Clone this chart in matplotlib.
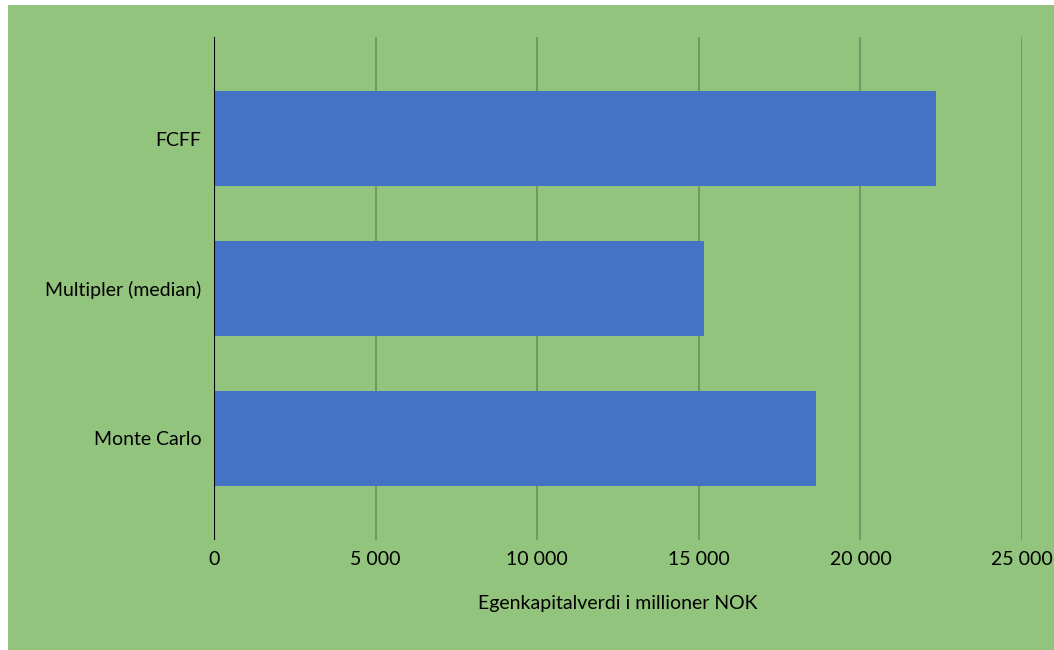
import matplotlib.pyplot as plt
from matplotlib.patches import Rectangle
from matplotlib.ticker import FuncFormatter

# Egenkapitalverdi per metode (millioner NOK)
metoder = ["FCFF", "Multipler (median)", "Monte Carlo"]
verdier = [22340, 15160, 18630]
x_ticks = [0, 5000, 10000, 15000, 20000, 25000]

bg = "#93C47D"
grid_col = "#6F8F5F"
bar_col = "#4472C4"

plt.rcParams["font.family"] = ["Lato", "DejaVu Sans"]

fig = plt.figure(figsize=(10.54, 6.5), dpi=100)
fig.patch.set_facecolor("white")
fig.patches.append(Rectangle((8/1054, 0), 1 - 8/1054, 1 - 5/650,
                             transform=fig.transFigure, facecolor=bg,
                             edgecolor="none", zorder=-10))

ax = fig.add_axes([214/1054, 1 - 540/650, 808/1054, 503/650])
ax.set_facecolor(bg)

pos = list(range(len(metoder)))
ax.barh(pos, verdier, height=0.633, color=bar_col, zorder=3)

ax.set_xlim(0, 25000)
ax.set_ylim(2.677, -0.677)
ax.set_yticks(pos)
ax.set_yticklabels(metoder)
ax.set_xticks(x_ticks)
ax.xaxis.set_major_formatter(FuncFormatter(lambda v, p: f"{int(v):,}".replace(",", " ")))

for s in ax.spines.values():
    s.set_visible(False)
ax.xaxis.grid(True, color=grid_col, linewidth=1.2, zorder=1)
ax.axvline(0, color="black", linewidth=1.5, zorder=4)
ax.tick_params(axis="both", length=0, labelsize=14, colors="black")
ax.tick_params(axis="x", pad=8)
ax.tick_params(axis="y", pad=9)

ax.set_xlabel("Egenkapitalverdi i millioner NOK", fontsize=14, labelpad=19)

fig.savefig("out.png", dpi=100, facecolor=fig.get_facecolor())
